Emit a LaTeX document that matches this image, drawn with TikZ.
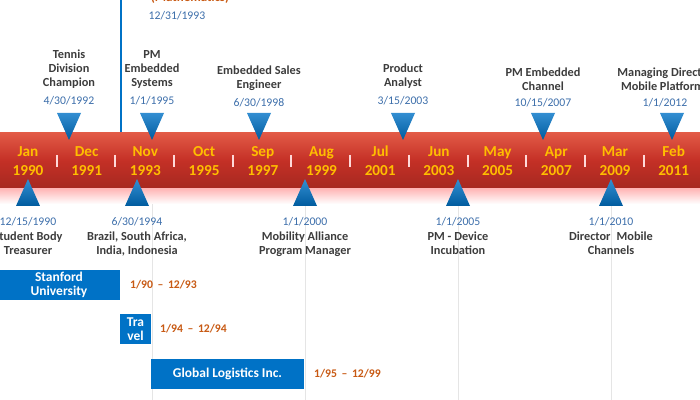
\documentclass[tikz,border=0pt]{standalone}
\usepackage{fontspec}
\setmainfont{Carlito}
\usetikzlibrary{positioning}
\definecolor{bandred}{RGB}{196,48,38}
\definecolor{bandtop}{RGB}{226,90,70}
\definecolor{tlblue}{RGB}{0,114,198}
\definecolor{datblue}{RGB}{60,110,170}
\definecolor{yrorange}{RGB}{255,190,0}
\definecolor{spanorange}{RGB}{200,90,20}
\definecolor{txtgray}{RGB}{60,60,60}

\tikzset{
    period/.style={font=\bfseries\fontsize{13}{15}\selectfont, text=yrorange, align=center},
    event/.style={font=\bfseries\fontsize{10.5}{12}\selectfont, text=txtgray, align=center},
    evdate/.style={font=\fontsize{10}{12}\selectfont, text=datblue},
    span/.style={font=\bfseries\fontsize{10}{12}\selectfont, text=spanorange, anchor=west},
    stint/.style={text=white, align=center, font=\bfseries\fontsize{11.5}{12}\selectfont},
}

\begin{document}
\begin{tikzpicture}[x=0.03cm, y=-0.03cm]
    \useasboundingbox (0, 0) rectangle (700, 400);
    % guide lines
    \foreach \gx in {152, 305, 458, 611}
        \draw[black!10] (\gx, 200) -- (\gx, 400);
    \draw[tlblue, line width=1.2pt] (121, 0) -- (121, 133);
    \node[font=\bfseries\fontsize{11}{12}\selectfont, text=spanorange] at (190, -2) {(Mathematics)};
    \node[evdate] at (177, 16) {12/31/1993};
    % band
    \shade[top color=red!30, bottom color=white] (0, 188) rectangle (700, 204);
    \shade[top color=bandtop, bottom color=bandred!85!black, middle color=bandred]
        (0, 133) rectangle (700, 188);
    \foreach \sx in {57, 115, 174, 233, 291, 350, 409, 468, 526, 585, 644}
        \draw[white!85!red, line width=1.3pt] (\sx, 155) -- (\sx, 167);
    \foreach \m/\yr [count=\i from 0] in {Jan/1990, Dec/1991, Nov/1993, Oct/1995,
            Sep/1997, Aug/1999, Jul/2001, Jun/2003, May/2005, Apr/2007, Mar/2009, Feb/2011}
        \node[period] (p\i) at (28 + 58.7*\i, 161) {\m\\[1pt]\yr};
    % markers
    \foreach \tx in {69, 152, 259, 403, 543, 672}
        \shade[top color=tlblue!80!white, bottom color=tlblue!80!black]
            (\tx-12, 113) -- (\tx+12, 113) -- (\tx, 140) -- cycle;
    \foreach \bx in {28, 137, 305, 458, 611}
        \shade[top color=tlblue!80!white, bottom color=tlblue!80!black]
            (\bx-12, 206) -- (\bx+12, 206) -- (\bx, 179) -- cycle;
    % events above
    \node[evdate] (d1) at (69, 101) {4/30/1992};
    \node[event, above=0pt of d1] {Tennis\\Division\\Champion};
    \node[evdate] (d2) at (152, 101) {1/1/1995};
    \node[event, above=0pt of d2] {PM\\Embedded\\Systems};
    \node[evdate] (d3) at (259, 103) {6/30/1998};
    \node[event, above=0pt of d3] {Embedded Sales\\Engineer};
    \node[evdate] (d4) at (403, 101) {3/15/2003};
    \node[event, above=0pt of d4] {Product\\Analyst};
    \node[evdate] (d5) at (543, 103) {10/15/2007};
    \node[event, above=0pt of d5] {PM Embedded\\Channel};
    \node[evdate] (d6) at (665, 103) {1/1/2012};
    \node[event, above=0pt of d6] {Managing Director\\Mobile Platforms};
    % events below
    \node[evdate] (b1) at (28, 222) {12/15/1990};
    \node[event, below=-2pt of b1] {Student Body\\Treasurer};
    \node[evdate] (b2) at (137, 222) {6/30/1994};
    \node[event, below=-2pt of b2] {Brazil, South Africa,\\India, Indonesia};
    \node[evdate] (b3) at (305, 222) {1/1/2000};
    \node[event, below=-2pt of b3] {Mobility Alliance\\Program Manager};
    \node[evdate] (b4) at (458, 222) {1/1/2005};
    \node[event, below=-2pt of b4] {PM - Device\\Incubation};
    \node[evdate] (b5) at (611, 222) {1/1/2010};
    \node[event, below=-2pt of b5] {Director\enspace Mobile\\Channels};
    % stints
    \fill[tlblue] (-2, 270) rectangle (120, 300);
    \node[stint] (stan) at (59, 285) {Stanford\\University};
    \node[span] at (126, 285) {1/90 \,–\, 12/93};
    \fill[tlblue] (120, 314) rectangle (151, 344);
    \node[stint] (trav) at (135.5, 329) {Tra\\vel};
    \node[span] at (156, 329) {1/94 \,–\, 12/94};
    \fill[tlblue] (151, 359) rectangle (304, 389);
    \node[stint] (glob) at (227.5, 374) {Global Logistics Inc.};
    \node[span] at (310, 374) {1/95 \,–\, 12/99};
\end{tikzpicture}
\end{document}
